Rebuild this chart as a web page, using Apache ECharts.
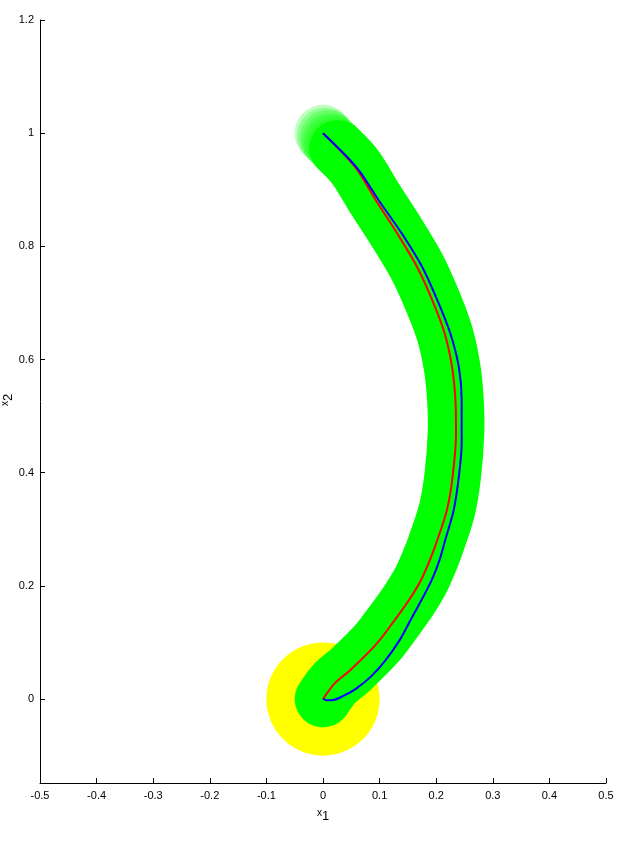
<!DOCTYPE html>
<html>
<head>
<meta charset="utf-8">
<script src="https://cdn.jsdelivr.net/npm/echarts@6/dist/echarts.min.js"></script>
<style>
html,body{margin:0;padding:0;background:#fff;}
#chart{width:643px;height:847px;}
</style>
</head>
<body>
<div id="chart"></div>
<script>
// Reference path (red), from start (0,1) to goal (0,0)
const refX = [0.000, 0.057, 0.093, 0.131, 0.166, 0.193, 0.215, 0.228, 0.234, 0.235, 0.229, 0.219, 0.202, 0.189, 0.173, 0.152, 0.127, 0.095, 0.048, 0.021, 0.000];
const refY = [1.000, 0.940, 0.882, 0.823, 0.764, 0.705, 0.646, 0.587, 0.528, 0.470, 0.393, 0.334, 0.281, 0.246, 0.210, 0.175, 0.140, 0.098, 0.051, 0.028, 0.000];
// Actual trajectory (blue)
const trajX = [0.000, 0.059, 0.098, 0.139, 0.175, 0.202, 0.225, 0.240, 0.245, 0.245, 0.240, 0.231, 0.216, 0.206, 0.192, 0.174, 0.155, 0.136, 0.110, 0.085, 0.058, 0.035, 0.016, 0.006, 0.000];
const trajY = [1.000, 0.940, 0.882, 0.823, 0.764, 0.705, 0.646, 0.587, 0.528, 0.452, 0.393, 0.334, 0.281, 0.246, 0.210, 0.175, 0.140, 0.105, 0.068, 0.040, 0.018, 0.005, -0.002, -0.002, 0.001];
// Faded tube circles at the start of the path
const startCircX = [0.000, 0.004, 0.009, 0.013, 0.017, 0.022, 0.026];
const startCircY = [1.000, 0.995, 0.991, 0.986, 0.982, 0.977, 0.973];
const tubeRadius = 0.05;
const goalCenter = [0, 0];
const goalRadius = 0.1;
const xTickValues = [-0.5, -0.4, -0.3, -0.2, -0.1, 0, 0.1, 0.2, 0.3, 0.4, 0.5];
const yTickValues = [0, 0.2, 0.4, 0.6, 0.8, 1, 1.2];
const xMin = -0.5, xMax = 0.5, yMin = -0.1484, yMax = 1.2;

const chart = echarts.init(document.getElementById('chart'), null, {renderer: 'canvas'});
const font = 'Liberation Sans, Arial, sans-serif';

function renderGoal(params, api) {
  const c = api.coord([api.value(0), api.value(1)]);
  const r = api.size([goalRadius, 0])[0];
  return {type: 'circle', shape: {cx: c[0], cy: c[1], r: r}, style: {fill: '#ffff00'}};
}

function renderTube(params, api) {
  const r = api.size([tubeRadius, 0])[0];
  const last = startCircX.length - 1;
  const pts = [api.coord([startCircX[last], startCircY[last]])];
  for (let i = 1; i < refX.length; i++) pts.push(api.coord([refX[i], refY[i]]));
  const children = [{
    type: 'polyline',
    shape: {points: pts, smooth: 0.3},
    style: {stroke: '#00ff00', lineWidth: 2 * r, lineCap: 'round', lineJoin: 'round', fill: null}
  }];
  for (let i = 0; i < startCircX.length; i++) {
    const c = api.coord([startCircX[i], startCircY[i]]);
    children.push({type: 'circle', shape: {cx: c[0], cy: c[1], r: r}, style: {fill: 'rgba(0,255,0,0.25)'}});
  }
  return {type: 'group', children: children};
}

const axisCommon = {
  axisLine: {onZero: false, lineStyle: {color: '#000', width: 1}},
  axisTick: {inside: true, length: 5, lineStyle: {color: '#000'}},
  splitLine: {show: false},
  axisLabel: {color: '#000', fontFamily: font, fontSize: 11}
};

chart.setOption({
  backgroundColor: '#fff',
  animation: false,
  grid: {left: 40, top: 20, width: 566, height: 763, containLabel: false, outerBoundsMode: 'none'},
  graphic: [{
    type: 'text', x: 7, y: 400, rotation: Math.PI / 2, silent: true,
    style: {
      text: 'x{s|2}', fill: '#000', fontFamily: font, fontSize: 10,
      align: 'center', verticalAlign: 'middle', padding: [0, 0, 4, 0],
      rich: {s: {fontSize: 13, fill: '#000', fontFamily: font, padding: [6, 0, 0, 0]}}
    }
  }],
  xAxis: Object.assign({}, axisCommon, {
    type: 'value', min: xMin, max: xMax, interval: 0.1,
    axisLabel: Object.assign({}, axisCommon.axisLabel, {margin: 7, customValues: xTickValues, formatter: v => String(+v.toFixed(1))}),
    axisTick: Object.assign({}, axisCommon.axisTick, {customValues: xTickValues}),
    name: 'x{s|1}', nameLocation: 'middle', nameGap: 21,
    nameTextStyle: {color: '#000', fontFamily: font, fontSize: 10, padding: [0, 0, 4, 0],
      rich: {s: {fontSize: 13, color: '#000', fontFamily: font, padding: [6, 0, 0, 0]}}}
  }),
  yAxis: Object.assign({}, axisCommon, {
    type: 'value', min: yMin, max: yMax,
    axisLabel: Object.assign({}, axisCommon.axisLabel, {margin: 6, customValues: yTickValues, formatter: v => String(+v.toFixed(1))}),
    axisTick: Object.assign({}, axisCommon.axisTick, {customValues: yTickValues})
  }),
  series: [
    {type: 'custom', name: 'goal', renderItem: renderGoal, data: [goalCenter], encode: {x: 0, y: 1}, z: 1, silent: true},
    {type: 'custom', name: 'tube', renderItem: renderTube, data: [[refX[0], refY[0]]], encode: {x: 0, y: 1}, z: 2, silent: true},
    {type: 'line', name: 'reference', data: refX.map((x, i) => [x, refY[i]]), showSymbol: false, smooth: 0.3,
      lineStyle: {color: '#ff0000', width: 2}, z: 3},
    {type: 'line', name: 'trajectory', data: trajX.map((x, i) => [x, trajY[i]]), showSymbol: false, smooth: 0.3,
      lineStyle: {color: '#0000ff', width: 2}, z: 4}
  ]
});
</script>
</body>
</html>
